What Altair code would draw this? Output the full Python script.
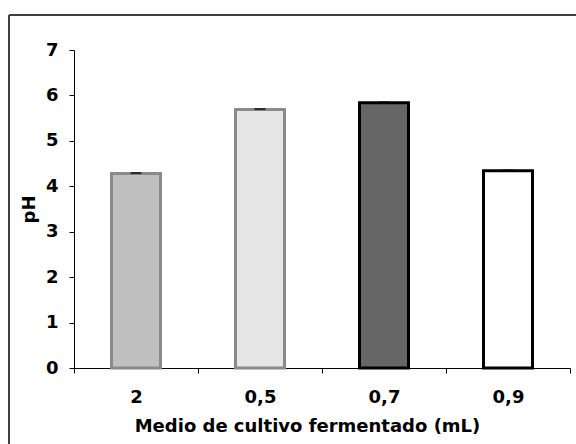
import altair as alt
import pandas as pd

# pH of each fermented culture medium volume
categories = ["2", "0,5", "0,7", "0,9"]
ph_values = [4.28, 5.69, 5.84, 4.34]
ph_errors = [0.01, 0.01, 0.01, 0.01]
fill_colors = ["#c0c0c0", "#e6e6e6", "#666666", "#ffffff"]
stroke_colors = ["#8a8a8a", "#8a8a8a", "#000000", "#000000"]

df = pd.DataFrame({
    "medio": categories,
    "ph": ph_values,
    "err": ph_errors,
    "fill": fill_colors,
    "stroke": stroke_colors,
})
df["cap"] = df["ph"] + df["err"]

FONT = "DejaVu Sans"

x_enc = alt.X(
    "medio:N",
    sort=categories,
    scale=alt.Scale(paddingInner=0, paddingOuter=0),
    axis=alt.Axis(
        title="Medio de cultivo fermentado (mL)",
        labelAngle=0,
        tickBand="extent",
        tickSize=5,
        labelPadding=15,
        titlePadding=11,
        titleX=233,
    ),
)

bars = alt.Chart(df).mark_bar(size=49, strokeWidth=3).encode(
    x=x_enc,
    y=alt.Y(
        "ph:Q",
        scale=alt.Scale(domain=[0, 7], nice=False),
        axis=alt.Axis(
            title="pH",
            values=[0, 1, 2, 3, 4, 5, 6, 7],
            tickSize=5,
            labelPadding=11,
            titlePadding=7,
            grid=False,
        ),
    ),
    fill=alt.Fill("fill:N", scale=None),
    stroke=alt.Stroke("stroke:N", scale=None),
)

caps = alt.Chart(df).mark_tick(
    color="#000000", size=11, thickness=2, orient="horizontal"
).encode(
    x=alt.X("medio:N", sort=categories),
    y=alt.Y("cap:Q"),
)

# outer chart border (top and left edges)
frame_top = alt.Chart(df).mark_rule(color="#404040", strokeWidth=2).encode(
    x=alt.value(-65), x2=alt.value(530), y=alt.value(-35)
)
frame_left = alt.Chart(df).mark_rule(color="#404040", strokeWidth=2).encode(
    x=alt.value(-65), y=alt.value(-35), y2=alt.value(430)
)

chart = (
    alt.layer(frame_top, frame_left, bars, caps)
    .properties(
        width=496,
        height=318,
        autosize=alt.AutoSizeParams(type="none"),
        padding={"left": 74, "top": 50, "right": 6, "bottom": 76},
        background="#ffffff",
    )
    .configure_view(stroke=None)
    .configure_axis(
        domainColor="#000000",
        domainWidth=1,
        tickColor="#000000",
        tickWidth=1,
        labelFont=FONT,
        labelFontSize=18,
        labelFontWeight="bold",
        labelColor="#000000",
        titleFont=FONT,
        titleFontSize=18,
        titleFontWeight="bold",
        titleColor="#000000",
    )
)

chart.save("out.html", embed_options={"renderer": "svg", "actions": False})
